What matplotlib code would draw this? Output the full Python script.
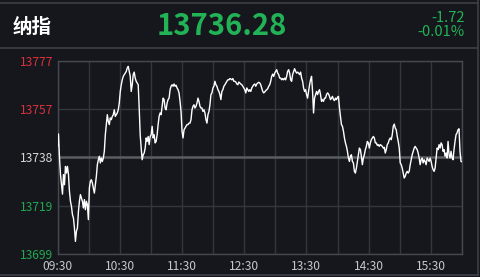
import numpy as np
import matplotlib.pyplot as plt
from matplotlib.lines import Line2D

plt.rcParams['font.family'] = ['Noto Sans CJK SC', 'DejaVu Sans']

name = '纳指'
last = '13736.28'
change = '-1.72'
change_pct = '-0.01%'
prev_close = 13738.0

# one price per sample, 09:30 -> 16:00
prices = [
    13742.5, 13747.5, 13737.8, 13731.1, 13727.0, 13723.2, 13731.1, 13727.0, 13734.4, 13731.7,
    13734.4, 13731.1, 13724.3, 13720.3, 13718.3, 13714.9, 13713.5, 13709.5, 13704.1, 13708.2,
    13709.5, 13716.2, 13720.3, 13723.0, 13721.6, 13720.3, 13717.6, 13721.0, 13716.9, 13720.3,
    13718.9, 13712.9, 13725.7, 13728.4, 13729.0, 13727.7, 13725.7, 13723.6, 13727.0, 13730.4,
    13735.1, 13737.1, 13738.5, 13735.8, 13737.8, 13736.4, 13737.8, 13740.5, 13747.2, 13751.3,
    13755.3, 13752.6, 13751.3, 13754.0, 13753.3, 13754.6, 13755.3, 13757.3, 13754.6, 13755.3,
    13756.0, 13757.3, 13760.0, 13764.7, 13767.4, 13769.4, 13770.8, 13771.5, 13772.1, 13772.8,
    13774.2, 13774.8, 13772.8, 13770.8, 13764.7, 13767.4, 13771.5, 13772.5, 13770.1, 13768.8,
    13768.1, 13767.4, 13758.0, 13747.2, 13741.8, 13737.1, 13739.1, 13739.8, 13741.8, 13745.9,
    13744.5, 13746.5, 13743.2, 13746.5, 13747.2, 13750.6, 13745.9, 13747.2, 13743.9,
    13744.5, 13747.2, 13751.3, 13754.6, 13756.0, 13755.3, 13758.7, 13762.0, 13761.4, 13758.0,
    13757.3, 13760.0, 13761.4, 13762.0, 13765.4, 13766.8, 13767.4, 13766.8, 13767.7, 13766.8,
    13767.2, 13766.1, 13765.4, 13764.1, 13760.7, 13756.6, 13748.6, 13745.9, 13749.2, 13749.9,
    13750.6, 13751.3, 13751.3, 13751.9, 13751.9, 13753.3, 13757.3, 13758.7, 13759.3, 13758.0,
    13758.7, 13760.0, 13762.0, 13760.7, 13758.7, 13758.0, 13758.0, 13756.6, 13757.3, 13756.0,
    13753.3, 13751.9, 13755.3, 13756.6, 13759.3, 13763.4, 13764.1, 13766.1, 13766.8, 13768.8,
    13767.4, 13766.8, 13765.4, 13764.7, 13763.4, 13761.4, 13764.7, 13765.4, 13766.8, 13767.4,
    13768.1, 13768.8, 13769.4, 13769.4, 13769.9, 13769.7, 13769.4, 13769.9, 13768.8, 13768.8,
    13768.5, 13767.7, 13767.4, 13768.5, 13768.1, 13767.7, 13767.4, 13766.8, 13766.1, 13765.4,
    13764.1, 13766.1, 13765.4, 13764.7, 13765.4, 13764.7, 13766.1, 13766.8, 13767.4, 13767.7,
    13766.8, 13767.7, 13768.1, 13768.4, 13768.1, 13767.4, 13766.1, 13764.7, 13764.1, 13764.5,
    13765.0, 13765.4, 13765.8, 13766.8, 13767.4, 13768.8, 13770.8, 13771.7, 13770.8, 13772.1,
    13772.8, 13773.5, 13772.1, 13771.5, 13770.1, 13770.1, 13769.4, 13769.9, 13769.4, 13770.1,
    13769.4, 13770.8, 13772.8, 13773.5, 13772.1, 13769.4, 13768.8, 13771.5, 13772.8, 13773.9,
    13772.8, 13772.1, 13772.5, 13772.1, 13771.5, 13772.5, 13770.1, 13768.8, 13766.1, 13764.7,
    13765.4, 13763.4, 13762.0, 13764.7, 13767.4, 13769.4, 13770.8, 13764.7, 13756.0, 13762.0,
    13763.4, 13764.7, 13763.4, 13764.7, 13765.4, 13763.4, 13760.7, 13761.4, 13760.7, 13762.0,
    13762.0, 13763.4, 13764.1, 13763.7, 13762.7, 13761.4, 13762.0, 13762.7, 13761.4, 13761.0,
    13762.0, 13761.4, 13762.3, 13762.7, 13758.0, 13754.6, 13751.3, 13750.6, 13748.6, 13745.9,
    13743.9, 13742.5, 13740.5, 13737.8, 13736.4, 13738.5, 13739.1, 13736.4, 13735.8, 13732.4,
    13731.7, 13733.7, 13736.4, 13739.1, 13741.8, 13741.2, 13738.5, 13735.1, 13737.8, 13739.1,
    13741.2, 13742.5, 13744.5, 13743.9, 13741.8, 13743.9, 13745.2, 13745.9, 13746.5, 13745.9,
    13743.9, 13743.9, 13742.9, 13743.2, 13742.5, 13743.2, 13742.9, 13742.5, 13741.8, 13742.1,
    13739.8, 13741.2, 13743.2, 13743.9, 13745.2, 13745.9, 13745.2, 13747.2, 13750.6, 13751.5,
    13749.9, 13749.2, 13746.5, 13744.5, 13741.8, 13735.8, 13735.1, 13733.7, 13731.7, 13729.7,
    13730.4, 13731.7, 13732.4, 13731.7, 13732.4, 13735.1, 13737.1, 13739.1, 13740.5, 13741.8,
    13742.5, 13741.8, 13741.2, 13739.8, 13737.8, 13735.1, 13737.1, 13737.8, 13735.8, 13737.1,
    13736.4, 13735.1, 13737.8, 13737.1, 13736.4, 13737.8, 13736.4, 13734.4, 13733.1, 13732.4,
    13733.7, 13737.8, 13741.8, 13741.2, 13743.2, 13741.8, 13743.9, 13743.2, 13740.5, 13741.2,
    13738.5, 13739.8, 13737.8, 13744.5, 13739.1, 13737.8, 13740.5, 13737.8, 13737.1, 13741.2,
    13744.5, 13747.2, 13747.9, 13749.2, 13749.6, 13740.5, 13736.4, 13736.28,
]

x_ticks = list(range(0, 391, 30))
x_labels = ['09:30', '', '10:30', '', '11:30', '', '12:30', '', '13:30', '',
            '14:30', '', '15:30', '']
y_ticks = [13699, 13718.5, 13738, 13757.5, 13777]
y_labels = ['13699', '13719', '13738', '13757', '13777']
y_colors = ['#22a851', '#22a851', '#d6d6d6', '#d8333c', '#d8333c']

bg = '#15171c'
green = '#22b357'
border = '#3c3f45'

fig = plt.figure(figsize=(4.8, 2.77), dpi=100, facecolor=bg)
ax = fig.add_axes([57.5 / 480, 23 / 277, 404.5 / 480, 193 / 277])
ax.set_facecolor(bg)

minutes = np.linspace(0, 390, len(prices))
ax.plot(minutes, prices, color='white', lw=1.0, zorder=3)

ax.set_xlim(0, 390)
ax.set_ylim(13699, 13777)
ax.set_xticks(x_ticks)
ax.set_xticklabels(x_labels)
ax.set_yticks(y_ticks)
ax.set_yticklabels(y_labels)
ax.tick_params(length=0, labelsize=8.7, pad=3)
ax.tick_params(axis='x', labelcolor='#c4c7cb', pad=4)
for lbl, c in zip(ax.get_yticklabels(), y_colors):
    lbl.set_color(c)
ax.grid(color='#33363c', lw=1, zorder=1)
ax.axhline(prev_close, color='#595c61', lw=1.8, zorder=2)
for s in ax.spines.values():
    s.set_color('#45484e')
    s.set_linewidth(1)

# header
fig.text(13 / 480, 1 - 27 / 277, name, color='white', fontsize=14,
         fontweight='bold', va='center')
fig.text(222 / 480, 1 - 26 / 277, last, color=green, fontsize=21,
         fontweight='bold', ha='center', va='center')
fig.text(465 / 480, 1 - 18 / 277, change, color=green, fontsize=10.5,
         ha='right', va='center')
fig.text(465 / 480, 1 - 32 / 277, change_pct, color=green, fontsize=10.5,
         ha='right', va='center')

# frame lines
for y in (1 - 2.7 / 277, 1 - 47.7 / 277, 1 - 275 / 277):
    fig.add_artist(Line2D([0, 478 / 480], [y, y], color=border, lw=1.2))
fig.add_artist(Line2D([478 / 480, 478 / 480], [1 - 275 / 277, 1], color=border, lw=1.2))

fig.savefig('out.png', dpi=100, facecolor=bg)
